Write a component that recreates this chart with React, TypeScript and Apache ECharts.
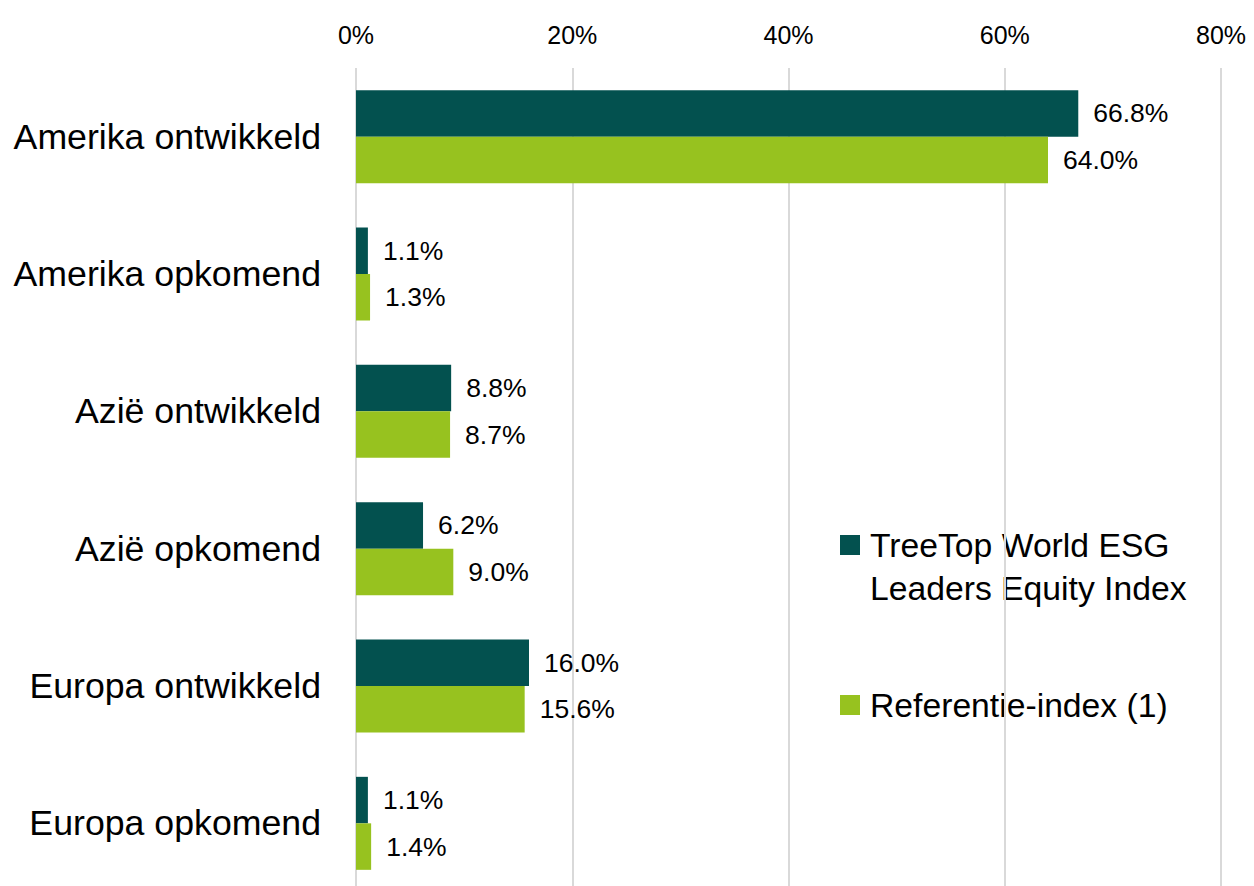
import React, { useEffect, useRef } from "react";
import * as echarts from "echarts";

const categories = [
  "Amerika ontwikkeld",
  "Amerika opkomend",
  "Azië ontwikkeld",
  "Azië opkomend",
  "Europa ontwikkeld",
  "Europa opkomend",
];
const seriesNames = ["TreeTop World ESG Leaders Equity Index", "Referentie-index (1)"];
const treeTopValues = [66.8, 1.1, 8.8, 6.2, 16.0, 1.1];
const referenceValues = [64.0, 1.3, 8.7, 9.0, 15.6, 1.4];
const axisTicks = [0, 20, 40, 60, 80];

const DARK = "#03514F";
const GREEN = "#97C21F";
const FONT = "Liberation Sans, Arial, sans-serif";

export default function App() {
  const ref = useRef<HTMLDivElement>(null);
  useEffect(() => {
    if (!ref.current) return;
    const chart = echarts.init(ref.current, undefined, { renderer: "svg" });
    const labelCfg = {
      show: true,
      position: "right",
      distance: 15,
      fontSize: 26.5,
      color: "#000",
      fontFamily: FONT,
      formatter: (p: any) => p.value.toFixed(1) + "%",
    };
    chart.setOption({
      animation: false,
      backgroundColor: "#fff",
      textStyle: { fontFamily: FONT },
      grid: { left: 356, right: 33, top: 68, bottom: 0, containLabel: false },
      xAxis: {
        type: "value",
        position: "top",
        min: axisTicks[0],
        max: axisTicks[axisTicks.length - 1],
        interval: 20,
        axisLine: { show: false },
        axisTick: { show: false },
        axisLabel: {
          formatter: "{value}%",
          fontSize: 25,
          color: "#000",
          margin: 21,
          fontFamily: FONT,
        },
        splitLine: { show: true, lineStyle: { color: "#d9d9d9", width: 2 } },
      },
      yAxis: {
        type: "category",
        data: categories,
        inverse: true,
        axisLine: { show: false },
        axisTick: { show: false },
        axisLabel: { fontSize: 35.7, color: "#000", margin: 35, fontFamily: FONT },
      },
      series: [
        {
          name: seriesNames[0],
          type: "bar",
          data: treeTopValues,
          barWidth: 46.5,
          barGap: "0%",
          itemStyle: { color: DARK },
          label: labelCfg,
        },
        {
          name: seriesNames[1],
          type: "bar",
          data: referenceValues,
          barWidth: 46.5,
          barGap: "0%",
          itemStyle: { color: GREEN },
          label: labelCfg,
        },
      ],
      graphic: [
        { type: "rect", left: 840, top: 535, shape: { width: 20, height: 20 }, style: { fill: DARK } },
        {
          type: "text",
          x: 870,
          y: 545,
          style: { text: "TreeTop World ESG", fontSize: 33.7, fill: "#000", fontFamily: FONT, verticalAlign: "middle" },
        },
        {
          type: "text",
          x: 870,
          y: 588,
          style: { text: "Leaders Equity Index", fontSize: 33.7, fill: "#000", fontFamily: FONT, verticalAlign: "middle" },
        },
        { type: "rect", left: 840, top: 695, shape: { width: 20, height: 20 }, style: { fill: GREEN } },
        {
          type: "text",
          x: 870,
          y: 705,
          style: { text: seriesNames[1], fontSize: 33.7, fill: "#000", fontFamily: FONT, verticalAlign: "middle" },
        },
      ],
    });
    return () => chart.dispose();
  }, []);
  return (
    <div
      ref={ref}
      style={{ position: "absolute", left: 0, top: 0, width: 1254, height: 892 }}
    />
  );
}
